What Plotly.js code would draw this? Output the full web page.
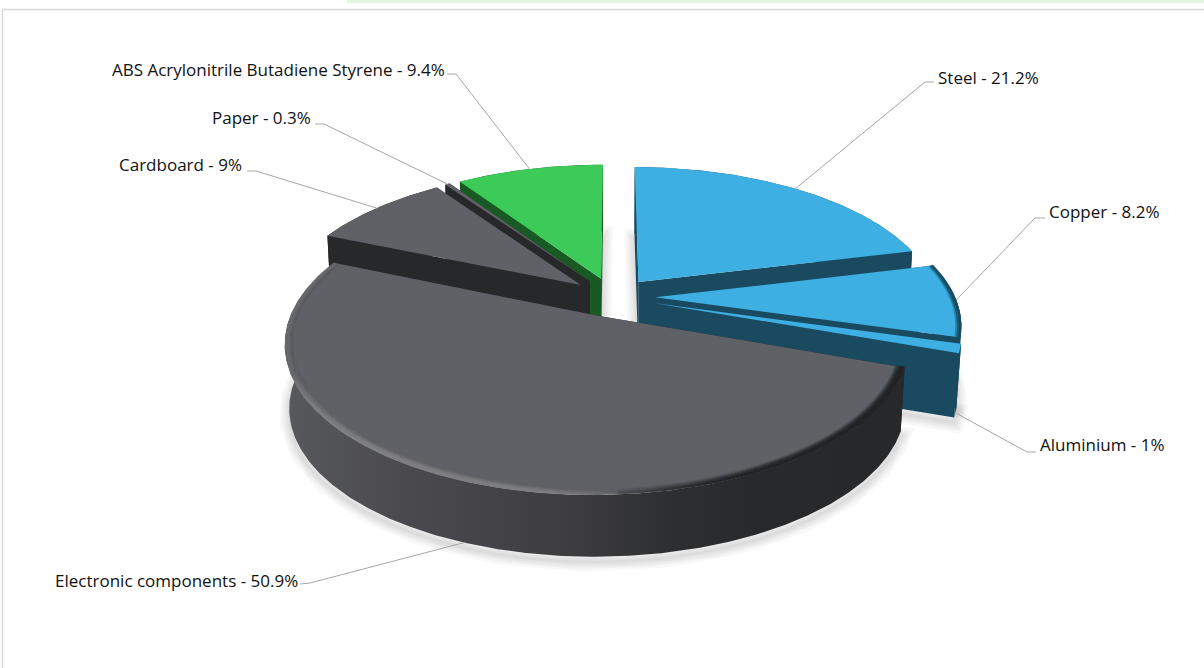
<!DOCTYPE html>
<html>
<head>
<meta charset="utf-8">
<script src="https://cdn.plot.ly/plotly-3.0.1.min.js"></script>
<style>html,body{margin:0;padding:0;background:#fff}#chart{width:1204px;height:668px}</style>
</head>
<body>
<div id="chart"></div>
<script>
// Material shares of the product, clockwise from twelve o'clock.
const categories = ['Steel', 'Copper', 'Aluminium', 'Electronic components', 'Cardboard', 'Paper', 'ABS Acrylonitrile Butadiene Styrene'];
const shares = [21.2, 8.2, 1, 50.9, 9, 0.3, 9.4];

const topColors = ['#3DAFE2', '#3DAFE2', '#3DAFE2', '#606166', '#606166', '#606166', '#3CCB58'];
const wallColors = ['#1A4A5F', '#1A4A5F', '#1A4A5F', '#27282A', '#27282A', '#27282A', '#185A24'];
const drawOrder = [6, 5, 4, 0, 1, 2, 3];

// Camera model for the tilted, exploded disc.
const view = {cx: 613, cy: 297, A: 300, B: 140, k: 0.177, m: 0.013, explode: 0.14, depth: 65};
const TAU = Math.PI * 2;

let running = 0;
const slices = shares.map((s, i) => {
  const a0 = running / 100 * TAU;
  running += s;
  const a1 = running / 100 * TAU;
  const mid = (a0 + a1) / 2;
  return {a0, a1, mid, du: view.explode * Math.sin(mid), dv: -view.explode * Math.cos(mid)};
});

function project(sl, theta, r, z) {
  const u = sl.du + r * Math.sin(theta);
  const v = sl.dv - r * Math.cos(theta);
  const d = 1 - view.k * v + view.m * z;
  return [view.cx + view.A * u / d, view.cy + view.B * v / d + view.depth * z];
}
function arc(sl, z, r, from, to) {
  const n = Math.max(4, Math.ceil(Math.abs(to - from) / 0.01));
  const pts = [];
  for (let j = 0; j <= n; j++) pts.push(project(sl, from + (to - from) * j / n, r, z));
  return pts;
}
function polygon(pts, extra) {
  return Object.assign({
    x: pts.map(p => p[0]), y: pts.map(p => p[1]),
    type: 'scatter', mode: 'lines', fill: 'toself', hoverinfo: 'skip', showlegend: false,
    line: {width: 0}
  }, extra);
}
function outline(sl) {
  const apex = project(sl, 0, 0, 1);
  return [apex].concat(arc(sl, 1, 1, sl.a0, sl.a1), [apex]);
}

const traces = [];

// Soft ground shadow: stacked translucent strokes around each slice's base.
slices.forEach(sl => {
  const base = outline(sl).map(p => [p[0], p[1] + 5]);
  [3, 7, 11, 15, 20].forEach(w => {
    traces.push({
      x: base.map(p => p[0]), y: base.map(p => p[1]),
      type: 'scatter', mode: 'lines', hoverinfo: 'skip', showlegend: false,
      line: {width: w, color: 'rgba(0,0,0,0.026)'}
    });
  });
});

// Rim shading, drawn as dense dots with a colour per angle.
function rimStrip(sl, r, colorAt) {
  const n = Math.ceil((sl.a1 - sl.a0) / 0.0025);
  const xs = [], ys = [], cs = [];
  for (let j = 0; j <= n; j++) {
    const t = sl.a0 + (sl.a1 - sl.a0) * j / n;
    const p = project(sl, t, r, 0);
    xs.push(p[0]); ys.push(p[1]); cs.push(colorAt(t));
  }
  return {x: xs, y: ys, type: 'scatter', mode: 'markers', hoverinfo: 'skip', showlegend: false,
          marker: {size: 2.4, color: cs, line: {width: 0}}};
}
const smooth = (a, b, t) => { const s = Math.min(1, Math.max(0, (t - a) / (b - a))); return s * s * (3 - 2 * s); };
const deg = d => d * Math.PI / 180;
function electronicRim(weight) {
  return t => {
    const dark = 1 - smooth(deg(145), deg(182), t);
    const light = smooth(deg(172), deg(200), t) * (1 - 0.9 * smooth(deg(215), deg(252), t));
    if (dark > light) return `rgba(38,39,41,${(dark * weight).toFixed(3)})`;
    return `rgba(128,129,133,${(light * weight).toFixed(3)})`;
  };
}
function blueRim(weight) {
  return t => `rgba(26,74,95,${(weight * smooth(deg(45), deg(95), t)).toFixed(3)})`;
}

drawOrder.forEach(i => {
  const sl = slices[i];
  const apexTop = project(sl, 0, 0, 0), apexBot = project(sl, 0, 0, 1);
  const rimTop = arc(sl, 0, 1, sl.a0, sl.a1);
  const rimBot = arc(sl, 1, 1, sl.a0, sl.a1);
  const wall = {fillcolor: wallColors[i]};

  // Radial faces, then the curved outer wall, then the top face.
  traces.push(polygon([apexTop, rimTop[0], rimBot[0], apexBot, apexTop], wall));
  traces.push(polygon([apexTop, rimTop[rimTop.length - 1], rimBot[rimBot.length - 1], apexBot, apexTop], wall));
  const wallPts = rimTop.concat(rimBot.slice().reverse(), [rimTop[0]]);
  if (categories[i] === 'Electronic components') {
    traces.push(polygon(wallPts, {
      fillcolor: 'rgba(0,0,0,0)',
      fillgradient: {
        type: 'horizontal',
        colorscale: [[0, '#58595D'], [0.2, '#4A4A4E'], [0.45, '#3E3E41'], [0.62, '#2E2F31'], [0.75, '#28292B'], [1, '#27282A']]
      }
    }));
  } else {
    traces.push(polygon(wallPts, wall));
  }
  traces.push(polygon([apexTop].concat(rimTop, [apexTop]), {fillcolor: topColors[i]}));

  if (categories[i] === 'Electronic components') {
    [[0.996, 0.85], [0.992, 0.6], [0.988, 0.42], [0.984, 0.28], [0.98, 0.17], [0.976, 0.09], [0.972, 0.04]].forEach(s => {
      traces.push(rimStrip(sl, s[0], electronicRim(s[1])));
    });
  }
  if (categories[i] === 'Copper') {
    [[0.996, 0.45], [0.99, 0.22], [0.984, 0.08]].forEach(s => {
      traces.push(rimStrip(sl, s[0], blueRim(s[1])));
    });
  }
});

// Callout elbows and text anchors, one per category.
const callouts = {
  'Steel': {tx: 937, ty: 77, side: 'left', elbow: [[934, 82], [925, 82]], z: 0},
  'Copper': {tx: 1048, ty: 211, side: 'left', elbow: [[1045, 218], [1035, 218]], z: 0},
  'Aluminium': {tx: 1039, ty: 444, side: 'left', elbow: [[1036, 452], [1027, 452]], z: 1},
  'Electronic components': {tx: 299, ty: 580, side: 'right', elbow: [[300, 584], [310, 583]], z: 1},
  'Cardboard': {tx: 243, ty: 164, side: 'right', elbow: [[247, 171], [256, 171]], z: 0},
  'Paper': {tx: 312, ty: 117, side: 'right', elbow: [[315, 124], [324, 124]], z: 0},
  'ABS Acrylonitrile Butadiene Styrene': {tx: 446, ty: 69, side: 'right', elbow: [[447, 74], [456, 74]], z: 0}
};

const annotations = [];
categories.forEach((name, i) => {
  const c = callouts[name];
  const end = project(slices[i], slices[i].mid, 1, c.z);
  const pts = c.elbow.concat([end]);
  traces.push({
    x: pts.map(p => p[0]), y: pts.map(p => p[1]),
    type: 'scatter', mode: 'lines', hoverinfo: 'skip', showlegend: false,
    line: {color: '#A6A6A6', width: 1}
  });
  annotations.push({
    x: c.tx, y: c.ty, xref: 'x', yref: 'y', showarrow: false,
    xanchor: c.side, yanchor: 'middle',
    text: name + ' - ' + shares[i] + '%',
    font: {family: '"Open Sans", sans-serif', size: 17, color: '#111111'},
    borderpad: 0, xshift: 0
  });
});

const layout = {
  width: 1204, height: 668,
  margin: {l: 0, r: 0, t: 0, b: 0},
  paper_bgcolor: '#FFFFFF', plot_bgcolor: '#FFFFFF',
  showlegend: false,
  xaxis: {range: [0, 1204], visible: false, fixedrange: true},
  yaxis: {range: [668, 0], visible: false, fixedrange: true},
  annotations,
  shapes: [
    {type: 'rect', xref: 'paper', yref: 'paper', x0: 347 / 1204, x1: 1, y0: 1, y1: 1 - 3 / 668, fillcolor: '#E2F5DE', line: {width: 0}, layer: 'below'},
    {type: 'line', xref: 'paper', yref: 'paper', x0: 2.5 / 1204, x1: 1, y0: 1 - 9.5 / 668, y1: 1 - 9.5 / 668, line: {color: '#D9D9D9', width: 1.5}, layer: 'below'},
    {type: 'line', xref: 'paper', yref: 'paper', x0: 2.5 / 1204, x1: 2.5 / 1204, y0: 1 - 9.5 / 668, y1: 0, line: {color: '#D9D9D9', width: 1.5}, layer: 'below'}
  ]
};

Plotly.newPlot('chart', traces, layout, {displayModeBar: false, staticPlot: true});
</script>
</body>
</html>
